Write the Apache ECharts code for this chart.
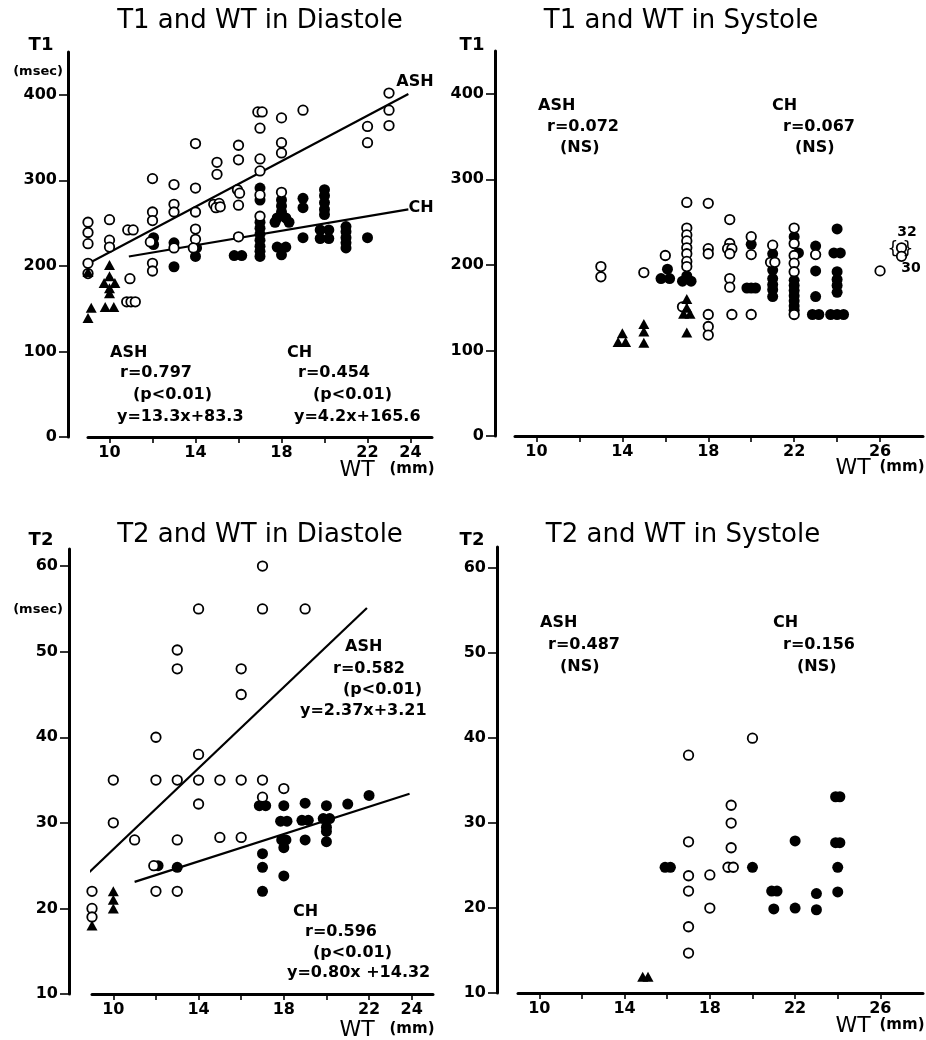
<!DOCTYPE html>
<html><head><meta charset="utf-8">
<script src="https://cdn.jsdelivr.net/npm/echarts@6/dist/echarts.min.js"></script>
<style>html,body{margin:0;padding:0;background:#fff}#c{width:926px;height:1040px}</style>
</head><body><div id="c"></div>
<script>
// ---------- Panel 1: T1 and WT in Diastole ----------
const t1dAsh = [[9,251],[9,239],[9,226],[9,203],[9,191],
  [10,254],[10,230],[10,222],
  [10.85,242],[11.1,242],[10.95,185],[10.8,158],[11.0,158],[11.2,158],
  [12,302],[12,263],[12,253],[11.9,228],[12,203],[12,194],
  [13,295],[13,272],[13,263],[13,221],
  [14,343],[14,291],[14,263],[14,243],[14,231],[13.9,221],
  [15,321],[15,307],[14.85,272],[15.1,273],[14.95,268],[15.15,269],
  [16,341],[16,324],[15.95,289],[16.05,285],[16,271],[16,234],
  [16.9,380],[17.1,380],[17,361],[17,325],[17,311],[17,283],[17,258],
  [18,373],[18,344],[18,332],[18,286],
  [19,382],
  [22,363],[22,344],
  [23,402],[23,382],[23,364]];
const t1dCh = [[12.05,233],[12.05,225],[13,227],[13,199],[14.05,221],[14,211],
  [15.8,212],[16.15,212],
  [17,291],[17,277],[17,251],[17,244],[17,237],[17,230],[17,223],[17,217],[17,211],
  [18,277],[18,270],[18,263],[17.8,256],[18.2,256],[17.7,251],[18.35,251],[17.8,222],[18.2,222],[18,213],
  [19,279],[19,268],[19,233],
  [20,289],[20,282],[20,274],[20,266],[20,260],[19.8,242],[20.2,242],[19.8,232],[20.2,232],
  [21,246],[21,240],[21,233],[21,227],[21,221],
  [22,233]];
const t1dTri = [[9,193],[8.85,151],[9.15,151],[9,139],
  [10,201],[10,188],[9.75,180],[10.25,180],[10,174],[10,168],[9.8,152],[10.2,152]];
const t1dAshLine = [[8.2,192],[23.9,401]];
const t1dChLine = [[10.9,211],[23.9,266]];

// ---------- Panel 2: T1 and WT in Systole ----------
const t1sAsh = [[13,198],[13,186],[15,191],[16,211],
  [17,273],[17,243],[17,235],[17,228],[17,220],[17,213],[17,204],[17,198],[16.8,151],
  [18,272],[18,219],[18,213],[18,142],[18,128],[18,118],
  [19,253],[19,225],[18.9,219],[19.1,219],[19,213],[19,184],[19,174],[19.1,142],
  [20,233],[20,212],[20,142],
  [21,223],[20.9,203],[21.1,203],
  [22,243],[22,225],[22,211],[22,202],[22,192],[22,142],
  [23,212],
  [26,193]];
const t1sAshOffScale = [[27,220],[27,210]];
const t1sCh = [[16.1,195],[15.8,184],[16.2,184],
  [17,187],[16.8,181],[17.2,181],
  [20,224],[19.8,173],[20,173],[20.2,173],
  [21,213],[21,194],[21,184],[21,177],[21,171],[21,163],
  [22,233],[22.2,214],[22,182],[22,176],[22,170],[22,164],[22,158],[22,152],[22,147],
  [23,222],[23,193],[23,163],[22.85,142],[23.15,142],
  [24,242],[23.85,214],[24.15,214],[24,192],[24,183],[24,176],[24,168],[23.7,142],[24,142],[24.3,142]];
const t1sTri = [[14,120],[13.8,110],[14.15,110],[15,131],[15,122],[15,109],
  [17,160],[17,150],[16.85,143],[17.15,143],[17,121]];

// ---------- Panel 3: T2 and WT in Diastole ----------
const t2dAsh = [[9,22],[9,20],[9,19],[10,35],[10,30],[11,28],
  [12,40],[12,35],[11.9,25],[12,22],
  [13,50.2],[13,48],[13,35],[13,28],[13,22],
  [14,55],[14,38],[14,35],[14,32.2],
  [15,35],[15,28.3],
  [16,48],[16,45],[16,35],[16,28.3],
  [17,60],[17,55],[17,35],[17,33],
  [18,34],[19,55]];
const t2dCh = [[12.1,25],[13,24.8],
  [16.85,32],[17.15,32],[17,26.4],[17,24.8],[17,22],
  [18,32],[17.85,30.2],[18.15,30.2],[17.9,28],[18.1,28],[18,27.1],[18,23.8],
  [19,32.3],[18.85,30.3],[19.15,30.3],[19,28],
  [20,32],[19.85,30.5],[20.15,30.5],[20,29.5],[20,29],[20,27.8],
  [21,32.2],[22,33.2]];
const t2dTri = [[9,18],[10,22],[10,21],[10,20]];
const t2dAshLine = [[8.6,23.6],[21.9,55.1]];
const t2dChLine = [[11,23.1],[23.9,33.4]];

// ---------- Panel 4: T2 and WT in Systole ----------
const t2sAsh = [[17,38],[17,27.8],[17,23.8],[17,22],[17,17.8],[17,14.7],
  [18,23.9],[18,20],[19,32.1],[19,30],[19,27.1],[18.85,24.8],[19.1,24.8],[20,40]];
const t2sCh = [[15.9,24.8],[16.15,24.8],[20,24.8],[20.9,22],[21.15,22],[21,19.9],
  [22,27.9],[22,20],[23,21.7],[23,19.8],
  [23.9,33.1],[24.1,33.1],[23.9,27.7],[24.1,27.7],[24,24.8],[24,21.9]];
const t2sTri = [[14.85,11.9],[15.1,11.9]];

// ---------- Axis ticks / labels ----------
const t1Ticks = [0,100,200,300,400];
const t2Ticks = [10,20,30,40,50,60];
const xTicksDia = [10,12,14,16,18,20,22,24];
const xLabelsDia = [10,14,18,22,24];
const xTicksSys = [10,12,14,16,18,20,22,24,26];
const xLabelsSys = [10,14,18,22,26];

// ---------- build ----------
const FONT = 'DejaVu Sans';
const chart = echarts.init(document.getElementById('c'), null, {renderer:'canvas'});

const grids = [
  {left:88, top:52, width:344, height:385},
  {left:515, top:51, width:408, height:385},
  {left:92, top:549, width:341, height:445},
  {left:518, top:547, width:405, height:446}
];
function xAx(i, max, ticks, labels){
  return {type:'value', gridIndex:i, min:9, max:max,
    axisLine:{show:true, lineStyle:{color:'#000', width:3}},
    axisTick:{show:true, customValues:ticks, length:6, lineStyle:{color:'#000', width:1.6}},
    axisLabel:{customValues:labels, color:'#000', fontFamily:FONT, fontWeight:'bold', fontSize:16, margin:8},
    splitLine:{show:false}};
}
function yAx(i, min, max, ticks, offset){
  return {type:'value', gridIndex:i, min:min, max:max, offset:offset,
    axisLine:{show:true, onZero:false, lineStyle:{color:'#000', width:3}},
    axisTick:{show:true, customValues:ticks, length:9, lineStyle:{color:'#000', width:1.6}},
    axisLabel:{customValues:ticks, color:'#000', fontFamily:FONT, fontWeight:'bold', fontSize:16, margin:11},
    splitLine:{show:false}};
}
function sc(data, i, kind){
  const s = {type:'scatter', data:data, xAxisIndex:i, yAxisIndex:i, silent:true};
  if(kind==='open'){ s.symbol='circle'; s.symbolSize=9.5; s.itemStyle={color:'#fff', borderColor:'#000', borderWidth:1.8, opacity:1}; s.z=4; }
  else if(kind==='fill'){ s.symbol='circle'; s.symbolSize=11; s.itemStyle={color:'#000', opacity:1}; s.z=3; }
  else { s.symbol='triangle'; s.symbolSize=[11,10]; s.itemStyle={color:'#000', opacity:1}; s.z=5; }
  return s;
}
function ln(data, i){
  return {type:'line', data:data, xAxisIndex:i, yAxisIndex:i, symbol:'none', silent:true, z:2,
    lineStyle:{color:'#000', width:2.2}};
}

function T(s, x, y, size, opt){
  opt = opt || {};
  return {type:'text', x:x, y:y, silent:true, z:10, style:{text:s, fill:'#000',
    fontFamily:FONT, fontSize:size, fontWeight:opt.w||'bold',
    align:opt.a||'left', verticalAlign:'middle', textAlign:opt.a||'left', textVerticalAlign:'middle'}};
}
const A = 16; // annotation font size
const N = {a:'center', w:'normal'};
const graphics = [
  // titles
  T('T1 and WT in Diastole', 260, 21, 26, N),
  T('T1 and WT in Systole', 681, 21, 26, N),
  T('T2 and WT in Diastole', 260, 535, 26, N),
  T('T2 and WT in Systole', 683, 535, 26, N),
  // y names
  T('T1', 41, 45, 18, {a:'center'}),
  T('(msec)', 38, 72, 13, {a:'center'}),
  T('T1', 472, 45, 18, {a:'center'}),
  T('T2', 41, 540, 18, {a:'center'}),
  T('(msec)', 38, 610, 13, {a:'center'}),
  T('T2', 472, 540, 18, {a:'center'}),
  // x names
  T('WT', 357, 470, 22, N), T('(mm)', 412, 469, 15, {a:'center'}),
  T('WT', 853, 468, 22, N), T('(mm)', 902, 467, 15, {a:'center'}),
  T('WT', 357, 1030, 22, N), T('(mm)', 412, 1029, 15, {a:'center'}),
  T('WT', 853, 1026, 22, N), T('(mm)', 902, 1025, 15, {a:'center'}),
  // panel 1
  T('ASH', 415, 82, A, {a:'center'}), T('CH', 421, 208, A, {a:'center'}),
  T('ASH', 110, 353, A), T('r=0.797', 120, 373, A), T('(p<0.01)', 133, 395, A), T('y=13.3x+83.3', 117, 417, A),
  T('CH', 287, 353, A), T('r=0.454', 298, 373, A), T('(p<0.01)', 313, 395, A), T('y=4.2x+165.6', 294, 417, A),
  // panel 2
  T('ASH', 538, 106, A), T('r=0.072', 547, 127, A), T('(NS)', 560, 148, A),
  T('CH', 772, 106, A), T('r=0.067', 783, 127, A), T('(NS)', 795, 148, A),
  T('32', 907, 232, 14, {a:'center'}), T('30', 911, 268, 14, {a:'center'}),
  T('{', 893, 250, 17, N), T('}', 908, 250, 17, N),
  // panel 3
  T('ASH', 345, 647, A), T('r=0.582', 333, 669, A), T('(p<0.01)', 343, 690, A), T('y=2.37x+3.21', 300, 711, A),
  T('CH', 293, 912, A), T('r=0.596', 305, 932, A), T('(p<0.01)', 313, 953, A), T('y=0.80x +14.32', 287, 973, A),
  // panel 4
  T('ASH', 540, 623, A), T('r=0.487', 548, 645, A), T('(NS)', 560, 667, A),
  T('CH', 773, 623, A), T('r=0.156', 783, 645, A), T('(NS)', 797, 667, A)
];

chart.setOption({
  animation:false,
  backgroundColor:'#fff',
  grid:grids,
  xAxis:[xAx(0,25,xTicksDia,xLabelsDia), xAx(1,28,xTicksSys,xLabelsSys), xAx(2,25,xTicksDia,xLabelsDia), xAx(3,28,xTicksSys,xLabelsSys)],
  yAxis:[yAx(0,0,450,t1Ticks,20), yAx(1,0,450,t1Ticks,20), yAx(2,10,62,t2Ticks,23), yAx(3,10,62.5,t2Ticks,21)],
  series:[
    ln(t1dAshLine,0), ln(t1dChLine,0), sc(t1dCh,0,'fill'), sc(t1dAsh,0,'open'), sc(t1dTri,0,'tri'),
    sc(t1sCh,1,'fill'), sc(t1sAsh,1,'open'), sc(t1sAshOffScale,1,'open'), sc(t1sTri,1,'tri'),
    ln(t2dAshLine,2), ln(t2dChLine,2), sc(t2dCh,2,'fill'), sc(t2dAsh,2,'open'), sc(t2dTri,2,'tri'),
    sc(t2sCh,3,'fill'), sc(t2sAsh,3,'open'), sc(t2sTri,3,'tri')
  ],
  graphic:graphics
});
</script></body></html>
